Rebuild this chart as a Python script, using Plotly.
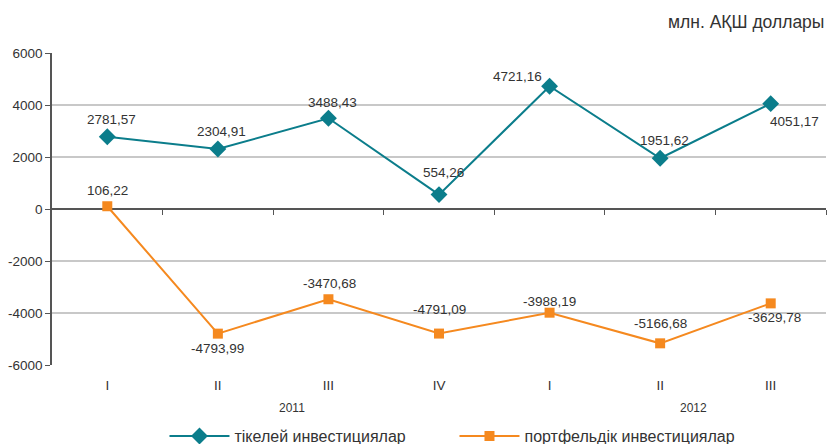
import plotly.graph_objects as go

# Quarterly investment flows, million US dollars
quarters = ["I", "II", "III", "IV", "I", "II", "III"]
years = ["2011", "2012"]
direct = [2781.57, 2304.91, 3488.43, 554.26, 4721.16, 1951.62, 4051.17]
portfolio = [106.22, -4793.99, -3470.68, -4791.09, -3988.19, -5166.68, -3629.78]
y_ticks = [6000, 4000, 2000, 0, -2000, -4000, -6000]

name_direct = "тікелей инвестициялар"
name_portfolio = "портфельдік инвестициялар"
unit_title = "млн. АҚШ доллары"

TEAL = "#0b7d8b"
ORANGE = "#f5891f"
TEXT = "#333333"
AXIS = "#555555"
FONT = "Liberation Sans, Arial, sans-serif"

xs = list(range(len(quarters)))


def fmt(v):
    return f"{v:.2f}".replace(".", ",")


# label offsets (px) from each marker
direct_off = [(4, 17), (4, 18), (4, 16), (4, 22), (-32, 10), (4, 18), (24, -18)]
portfolio_off = [(0, 16), (0, -15), (1, 16), (0, 24), (0, 11), (0, 20), (4, -14)]

fig = go.Figure()

fig.add_trace(go.Scatter(
    x=xs, y=direct, name=name_direct, mode="lines+markers",
    line=dict(color=TEAL, width=2),
    marker=dict(symbol="diamond", size=13, color=TEAL),
    cliponaxis=False,
))
fig.add_trace(go.Scatter(
    x=xs, y=portfolio, name=name_portfolio, mode="lines+markers",
    line=dict(color=ORANGE, width=2),
    marker=dict(symbol="square", size=10, color=ORANGE),
    cliponaxis=False,
))
# carrier trace for the category tick axis drawn along zero
fig.add_trace(go.Scatter(x=[None], y=[None], xaxis="x2", showlegend=False,
                         hoverinfo="skip"))

x_range = [-0.5, len(quarters) - 0.5]

annotations = []
for series, offs in ((direct, direct_off), (portfolio, portfolio_off)):
    for xv, yv, (dx, dy) in zip(xs, series, offs):
        annotations.append(dict(
            x=xv, y=yv, xref="x", yref="y", text=fmt(yv), showarrow=False,
            xshift=dx, yshift=dy,
            font=dict(size=13.5, color=TEXT, family=FONT)))

# year group labels under the quarter labels
year_x = [1.67, 5.3]
for yx, yr in zip(year_x, years):
    annotations.append(dict(x=yx, y=-0.138, xref="x", yref="paper", text=yr,
                            showarrow=False, yanchor="middle",
                            font=dict(size=12, color=TEXT, family=FONT)))
annotations.append(dict(x=1.0, y=1.1, xref="paper", yref="paper",
                        xanchor="right", yanchor="middle", showarrow=False,
                        text=unit_title,
                        font=dict(size=17.5, color=TEXT, family=FONT)))

fig.update_layout(
    width=828, height=444,
    margin=dict(l=52, r=2, t=53, b=79, autoexpand=False),
    paper_bgcolor="white", plot_bgcolor="white",
    font=dict(family=FONT, color=TEXT, size=13),
    xaxis=dict(range=x_range, tickvals=xs, ticktext=quarters,
               showgrid=False, zeroline=False, showline=False, ticks="",
               ticklabelstandoff=10,
               tickfont=dict(size=13.5, color=TEXT)),
    xaxis2=dict(range=x_range, overlaying="x", anchor="free", position=0.5,
                side="bottom", showline=False, showgrid=False, zeroline=False,
                tickvals=[i + 0.5 for i in xs], ticks="outside", ticklen=5,
                tickcolor=AXIS, showticklabels=False),
    yaxis=dict(range=[-6000, 6000], tickvals=y_ticks,
               ticktext=[str(v) for v in y_ticks],
               showgrid=True, gridcolor="#c8c8c8", gridwidth=1.5,
               zeroline=True, zerolinecolor=AXIS, zerolinewidth=1.5,
               showline=True, linecolor=AXIS, linewidth=1.5,
               ticks="outside", ticklen=5, tickcolor=AXIS,
               tickfont=dict(size=13.5, color=TEXT)),
    legend=dict(orientation="h", x=0.52, xanchor="center", y=-0.228,
                yanchor="middle", font=dict(size=16, color=TEXT),
                itemwidth=60, entrywidth=215, entrywidthmode="pixels"),
    annotations=annotations,
    showlegend=True,
)

fig.write_html("out.html")
